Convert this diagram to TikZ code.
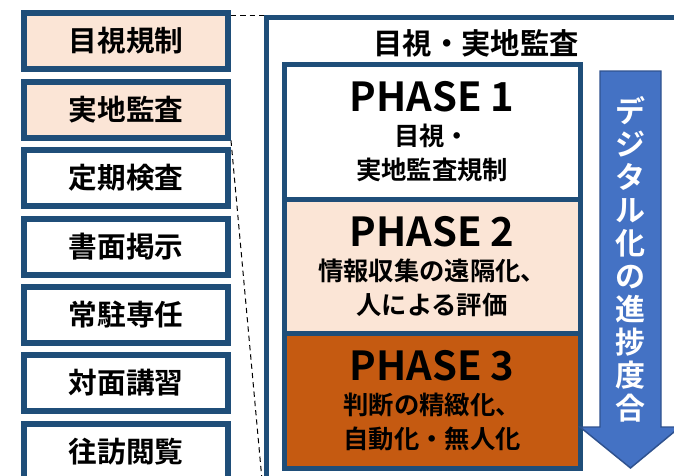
\documentclass[tikz,border=0pt]{standalone}
\usepackage{fontspec}
\setmainfont{Noto Sans CJK JP}[BoldFont={Noto Sans CJK JP Bold}]
\definecolor{navy}{HTML}{1F4E79}
\definecolor{peach}{HTML}{FBE5D6}
\definecolor{rust}{HTML}{C55A11}
\definecolor{arrowblue}{HTML}{4472C4}
\definecolor{arrowedge}{HTML}{2F528F}
\newcommand{\phaseheadfont}{\fontsize{30}{25.5}\selectfont}

\begin{document}
\begin{tikzpicture}[x=0.75pt,y=0.75pt,yscale=-1,xscale=1,
  measure/.style={draw=navy,line width=4.5pt,fill=white,minimum width=153pt,minimum height=42pt,inner sep=0pt,font=\bfseries\fontsize{21.5}{24}\selectfont},
  phasebox/.style={draw=navy,line width=3.75pt,minimum width=222pt,minimum height=101pt,inner sep=0pt,align=center,font=\bfseries\fontsize{19}{25.5}\selectfont}]
\useasboundingbox (0,0) rectangle (674,475);
\clip (0,0) rectangle (674,475);
% outer frame
\draw [navy,line width=3.75pt] (266,17) rectangle (720,520);
\coordinate (ftop) at (265,15);
\coordinate (fbot) at (262,480);
\draw (476,43) node [font=\bfseries\fontsize{22}{24}\selectfont] (title) {目視・実地監査};
% left column
\draw (126,41) node [measure,fill=peach] (m1) {目視規制};
\draw [line width=0.75pt,dash pattern={on 4pt off 3pt}] (m1.north east |- ftop) -- (ftop) ;
\draw (126,109.5) node [measure,fill=peach] (m2) {実地監査};
\draw [line width=0.75pt,dash pattern={on 4pt off 3pt}] (m2.south east) -- (fbot) ;
\draw (126,178) node [measure] (m3) {定期検査};
\draw (126,246.5) node [measure] (m4) {書面掲示};
\draw (126,314.5) node [measure] (m5) {常駐専任};
\draw (126,383) node [measure] (m6) {対面講習};
\draw (126,451.5) node [measure] (m7) {往訪閲覧};
% phases
\draw (432,132) node [phasebox,fill=white] (p1) {{\phaseheadfont PHASE 1}\\目視・\\実地監査規制};
\draw (432,266.5) node [phasebox,fill=peach] (p2) {{\phaseheadfont PHASE 2}\\情報収集の遠隔化、\\人による評価};
\draw (432,401) node [phasebox,fill=rust] (p3) {{\phaseheadfont PHASE 3}\\判断の精緻化、\\自動化・無人化};
% progress arrow
\draw [arrowedge,fill=arrowblue,line width=1.1pt] (600,71) -- (661,71) -- (661,427) -- (680,427) -- (630.5,468) -- (580,427) -- (600,427) -- cycle ;
\draw (630.5,259) node [text=white,align=center,inner sep=0pt,font=\bfseries\fontsize{22.5}{24.75}\selectfont] (prog) {デ\\ジ\\タ\\ル\\化\\の\\進\\捗\\度\\合};
\end{tikzpicture}
\end{document}
